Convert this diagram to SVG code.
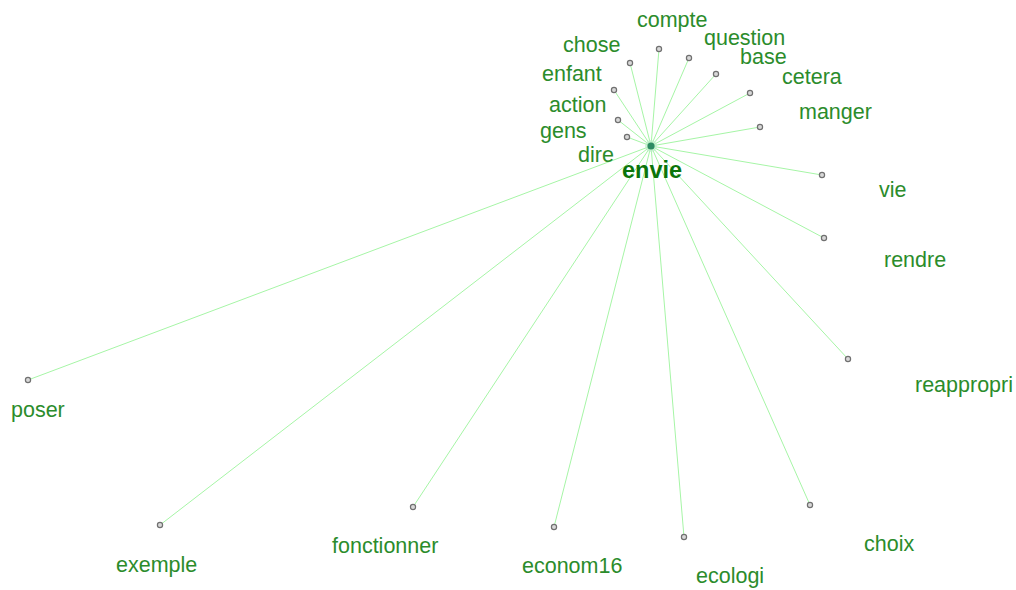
<svg xmlns="http://www.w3.org/2000/svg" width="1016" height="590" viewBox="0 0 1016 590">
<style>
.lbl{font-family:"Liberation Sans",Arial,sans-serif;font-size:21.5px;fill:#2b8c2b}
.main{font-family:"Liberation Sans",Arial,sans-serif;font-size:23.5px;font-weight:bold;fill:#0b740b}
.dot{fill:#d8d8d8;stroke:#707070;stroke-width:1.2}
.edge{stroke:#a6f5a6;stroke-width:1;fill:none}
</style>
<rect width="1016" height="590" fill="#ffffff"/>
<g id="connectors">
<line class="edge" x1="651" y1="146" x2="659" y2="49"/>
<line class="edge" x1="651" y1="146" x2="630" y2="63"/>
<line class="edge" x1="651" y1="146" x2="689" y2="58"/>
<line class="edge" x1="651" y1="146" x2="716" y2="74"/>
<line class="edge" x1="651" y1="146" x2="750" y2="93"/>
<line class="edge" x1="651" y1="146" x2="760" y2="127"/>
<line class="edge" x1="651" y1="146" x2="614" y2="90"/>
<line class="edge" x1="651" y1="146" x2="618" y2="120"/>
<line class="edge" x1="651" y1="146" x2="627" y2="137"/>
<line class="edge" x1="651" y1="146" x2="822" y2="175"/>
<line class="edge" x1="651" y1="146" x2="824" y2="238"/>
<line class="edge" x1="651" y1="146" x2="848" y2="359"/>
<line class="edge" x1="651" y1="146" x2="28" y2="380"/>
<line class="edge" x1="651" y1="146" x2="160" y2="525"/>
<line class="edge" x1="651" y1="146" x2="413" y2="507"/>
<line class="edge" x1="651" y1="146" x2="554" y2="527"/>
<line class="edge" x1="651" y1="146" x2="684" y2="537"/>
<line class="edge" x1="651" y1="146" x2="810" y2="505"/>
</g>
<g id="node-envie"><circle cx="651" cy="146" r="6" fill="#bfeccb" opacity="0.7"/><circle cx="651" cy="146" r="3.6" fill="#2e8b62"/><text class="main" x="622" y="178">envie</text></g>
<g id="node-compte"><circle class="dot" cx="659" cy="49" r="2.6"/><text class="lbl" x="637" y="27">compte</text></g>
<g id="node-chose"><circle class="dot" cx="630" cy="63" r="2.6"/><text class="lbl" x="563" y="52">chose</text></g>
<g id="node-question"><circle class="dot" cx="689" cy="58" r="2.6"/><text class="lbl" x="704" y="45">question</text></g>
<g id="node-base"><circle class="dot" cx="716" cy="74" r="2.6"/><text class="lbl" x="740" y="64">base</text></g>
<g id="node-cetera"><circle class="dot" cx="750" cy="93" r="2.6"/><text class="lbl" x="782" y="84">cetera</text></g>
<g id="node-manger"><circle class="dot" cx="760" cy="127" r="2.6"/><text class="lbl" x="799" y="119">manger</text></g>
<g id="node-enfant"><circle class="dot" cx="614" cy="90" r="2.6"/><text class="lbl" x="542" y="81">enfant</text></g>
<g id="node-action"><circle class="dot" cx="618" cy="120" r="2.6"/><text class="lbl" x="549" y="112">action</text></g>
<g id="node-gens"><circle class="dot" cx="627" cy="137" r="2.6"/><text class="lbl" x="540" y="138">gens</text></g>
<g id="node-dire"><text class="lbl" x="578" y="162">dire</text></g>
<g id="node-vie"><circle class="dot" cx="822" cy="175" r="2.6"/><text class="lbl" x="879" y="197">vie</text></g>
<g id="node-rendre"><circle class="dot" cx="824" cy="238" r="2.6"/><text class="lbl" x="884" y="267">rendre</text></g>
<g id="node-reappropri"><circle class="dot" cx="848" cy="359" r="2.6"/><text class="lbl" x="915" y="392">reappropri</text></g>
<g id="node-poser"><circle class="dot" cx="28" cy="380" r="2.6"/><text class="lbl" x="11" y="417">poser</text></g>
<g id="node-exemple"><circle class="dot" cx="160" cy="525" r="2.6"/><text class="lbl" x="116" y="572">exemple</text></g>
<g id="node-fonctionner"><circle class="dot" cx="413" cy="507" r="2.6"/><text class="lbl" x="332" y="553">fonctionner</text></g>
<g id="node-econom16"><circle class="dot" cx="554" cy="527" r="2.6"/><text class="lbl" x="522" y="573">econom16</text></g>
<g id="node-ecologi"><circle class="dot" cx="684" cy="537" r="2.6"/><text class="lbl" x="696" y="583">ecologi</text></g>
<g id="node-choix"><circle class="dot" cx="810" cy="505" r="2.6"/><text class="lbl" x="864" y="551">choix</text></g>
</svg>
